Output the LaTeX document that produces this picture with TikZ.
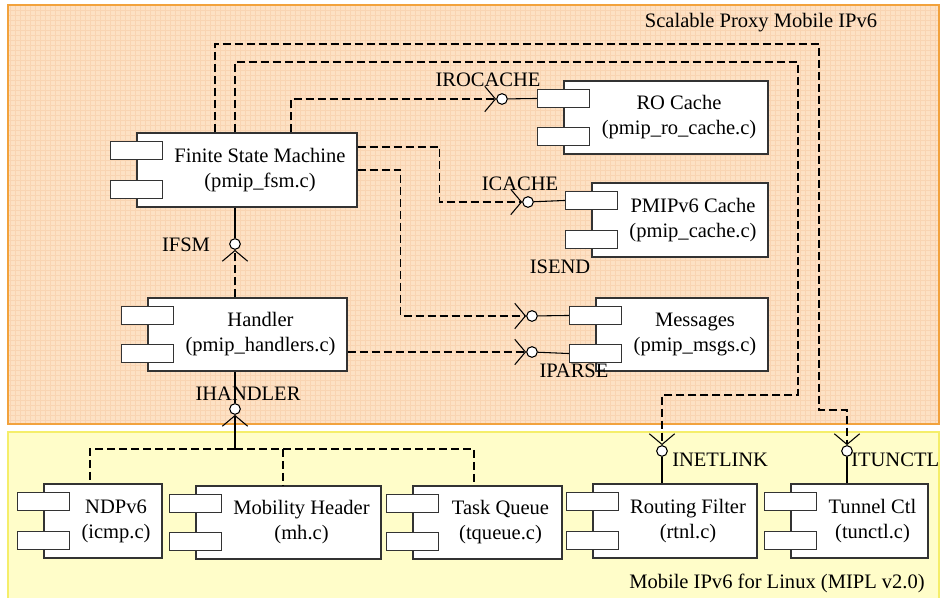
\documentclass[tikz,border=0pt]{standalone}
\usepackage{fontspec}
\setmainfont{Liberation Serif}
\usepackage{xcolor}
\usetikzlibrary{positioning,arrows.meta,fit,calc}

\definecolor{spmbg}{HTML}{FDE1C4}
\definecolor{spmgrid}{HTML}{F9D4B2}
\definecolor{spmline}{HTML}{F2A23C}
\definecolor{miplbg}{HTML}{FFFDC9}
\definecolor{miplline}{HTML}{F5EE6A}
\definecolor{compline}{HTML}{333333}

\tikzset{
  compbox/.style={draw=compline, fill=white, line width=0.8pt, inner sep=0pt},
  comptab/.style={draw=compline, fill=white, line width=0.8pt, inner sep=0pt,
    minimum width=39pt, minimum height=13.5pt},
  comptext/.style={align=center, font=\fontsize{15.4}{18.8}\selectfont, inner sep=0pt},
  iface/.style={circle, draw=black, fill=white, line width=0.8pt, minimum size=8pt, inner sep=0pt},
  lbl/.style={font=\fontsize{15.4}{18.8}\selectfont, inner sep=0pt},
  dep/.style={dash pattern=on 6pt off 3pt, line width=0.8pt},
  barb/.tip={Straight Barb[length=8pt, width=19pt]},
  deparrow/.style={dep, -barb},
  prov/.style={line width=0.8pt},
}

% two tabs on the left side of a component
\newcommand{\comptabs}[1]{%
  \node[comptab] (#1-t1) at ($(#1.north west)+(0,18)$) {};
  \node[comptab] (#1-t2) at ($(#1.south west)+(0,-18)$) {};
}

\begin{document}
\begin{tikzpicture}[x=0.75pt, y=-0.75pt]
\useasboundingbox (0,0) rectangle (940,598);

% packages
\fill[spmbg] (8,5) rectangle (939,424);
\draw[spmgrid, line width=0.3pt, step=3.75pt] (8,5) grid (939,424);
\draw[spmline, line width=1pt] (8,5) rectangle (939,424);
\fill[miplbg] (8,432) rectangle (939,600);
\draw[miplline, line width=1pt] (8,432) rectangle (939,600);

\node[lbl] (spm) at (761,23) {Scalable Proxy Mobile IPv6};
\node[lbl] (mipl) at (777,583) {Mobile IPv6 for Linux (MIPL v2.0)};

% components
\node[compbox, fit={(137,133) (357,207)}] (fsm) {};
\comptabs{fsm}
\node[comptext] (fsm-txt) at ($(fsm.center)+(13,0)$) {Finite State Machine\\(pmip\_fsm.c)};

\node[compbox, fit={(564,81) (768,154)}] (ro) {};
\comptabs{ro}
\node[comptext] (ro-txt) at ($(ro.center)+(13,0)$) {RO Cache\\(pmip\_ro\_cache.c)};

\node[compbox, fit={(592,183) (768,257)}] (cache) {};
\comptabs{cache}
\node[comptext] (cache-txt) at ($(cache.center)+(13,0)$) {PMIPv6 Cache\\(pmip\_cache.c)};

\node[compbox, fit={(596,298) (768,371)}] (msgs) {};
\comptabs{msgs}
\node[comptext] (msgs-txt) at ($(msgs.center)+(13,0)$) {Messages\\(pmip\_msgs.c)};

\node[compbox, fit={(148,298) (347,371)}] (handler) {};
\comptabs{handler}
\node[comptext] (handler-txt) at ($(handler.center)+(13,0)$) {Handler\\(pmip\_handlers.c)};

\node[compbox, fit={(44,484) (162,558)}] (ndp) {};
\comptabs{ndp}
\node[comptext] (ndp-txt) at ($(ndp.center)+(13,0)$) {NDPv6\\(icmp.c)};

\node[compbox, fit={(196,486) (381,559)}] (mh) {};
\comptabs{mh}
\node[comptext] (mh-txt) at ($(mh.center)+(13,0)$) {Mobility Header\\(mh.c)};

\node[compbox, fit={(413,486) (562,559)}] (tq) {};
\comptabs{tq}
\node[comptext] (tq-txt) at ($(tq.center)+(13,0)$) {Task Queue\\(tqueue.c)};

\node[compbox, fit={(593,484) (757,558)}] (rf) {};
\comptabs{rf}
\node[comptext] (rf-txt) at ($(rf.center)+(13,0)$) {Routing Filter\\(rtnl.c)};

\node[compbox, fit={(791,484) (928,558)}] (tc) {};
\comptabs{tc}
\node[comptext] (tc-txt) at ($(tc.center)+(13,0)$) {Tunnel Ctl\\(tunctl.c)};

% interfaces
\node[iface] (i-fsm) at (235,244) {};
\node[iface] (i-ro) at (502,99) {};
\node[iface] (i-cache) at (528,202) {};
\node[iface] (i-send) at (532,316) {};
\node[iface] (i-parse) at (532,352) {};
\node[iface] (i-handler) at (235,409) {};
\node[iface] (i-netlink) at (662,451) {};
\node[iface] (i-tunctl) at (847,451) {};
\coordinate (hjoin) at (235,449);

\node[lbl] (l-fsm) at (186,245) {IFSM};
\node[lbl] (l-ro) at (488,80) {IROCACHE};
\node[lbl] (l-cache) at (520,184) {ICACHE};
\node[lbl] (l-send) at (560,267) {ISEND};
\node[lbl] (l-parse) at (574,371) {IPARSE};
\node[lbl] (l-handler) at (248,394) {IHANDLER};
\node[lbl, anchor=west] (l-netlink) at (672,460) {INETLINK};
\node[lbl, anchor=west] (l-tunctl) at (851,460) {ITUNCTL};

% provided interfaces
\draw[prov] (i-fsm |- fsm.south) -- (i-fsm);
\draw[prov] (i-ro) -- (ro-t1.west);
\draw[prov] (i-cache) -- (cache-t1.west);
\draw[prov] (i-send) -- (msgs-t1.west);
\draw[prov] (i-parse) -- (msgs-t2.west);
\draw[prov] (i-handler |- handler.south) -- (i-handler);
\draw[prov] (i-netlink) -- (i-netlink |- rf.north);
\draw[prov] (i-tunctl) -- (i-tunctl |- tc.north);

% dependencies
\draw[deparrow] (i-fsm |- handler.north) -- (i-fsm);
\draw[deparrow] ($(fsm.north)+(44,0)$) |- (i-ro);
\draw[deparrow] ($(fsm.east)+(0,-23)$) -- ++(82,0) |- (i-cache);
\draw[deparrow] (fsm.east) -- ++(43,0) |- (i-send);
\draw[deparrow] (handler.east |- i-parse) -- (i-parse);
\draw[deparrow] ($(fsm.north)+(-12,0)$) |- (798,62) -- (798,395) -| (i-netlink);
\draw[deparrow] ($(fsm.north)+(-32,0)$) |- (819,44) -- (819,410) -| (i-tunctl);
\draw[prov, -barb] (hjoin) -- (i-handler);
\draw[dep] (hjoin) -| ($(ndp.north)+(-13,0)$);
\draw[dep] (hjoin) -| ($(mh.north)+(-5.5,0)$);
\draw[dep] (hjoin) -| ($(tq.north)+(-13.5,0)$);

\end{tikzpicture}
\end{document}
